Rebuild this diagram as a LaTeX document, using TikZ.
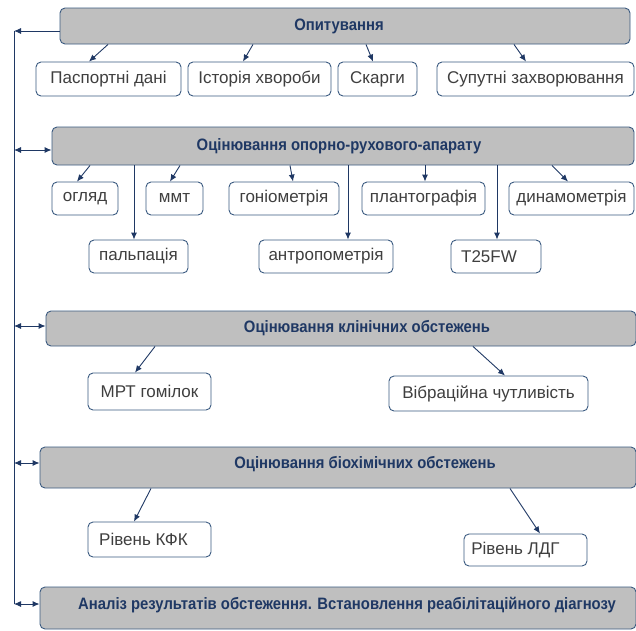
\documentclass[tikz,border=0pt]{standalone}
\usepackage{fontspec}
\setmainfont{Liberation Sans}
\usetikzlibrary{arrows.meta}
\definecolor{navy}{HTML}{1F3864}
\definecolor{boxline}{HTML}{3A5A80}
\definecolor{headfill}{HTML}{BFBFBF}
\definecolor{itemtext}{HTML}{3F3F3F}

\begin{document}
\begin{tikzpicture}[x=1pt, y=-1pt,
    head/.style={draw=boxline, line width=0.9pt, fill=headfill, rounded corners=5pt,
        font=\bfseries\fontsize{16.5}{18}\selectfont\addfontfeature{FakeStretch=0.9}, text=navy, inner sep=0pt},
    item/.style={draw=boxline, line width=0.9pt, fill=white, rounded corners=5pt,
        font=\fontsize{17}{19}\selectfont, text=itemtext, inner sep=0pt, minimum height=34pt},
    arr/.style={navy, line width=0.9pt, -{Latex[length=7pt,width=6pt]}},
    dbl/.style={navy, line width=0.9pt, {Latex[length=7pt,width=6pt]}-{Latex[length=7pt,width=6pt]}}]
    \useasboundingbox (0,0) rectangle (636,630);

    % survey
    \node[head, minimum width=570pt, minimum height=36pt] (op) at (345,26) {Опитування\hspace*{12pt}};
    \node[item, minimum width=145pt] (pd) at (108.5,79) {Паспортні дані};
    \node[item, minimum width=143pt] (ih) at (259.5,79) {Історія хвороби};
    \node[item, minimum width=79pt] (sk) at (377.5,79) {Скарги};
    \node[item, minimum width=197pt] (sz) at (535.5,79) {Супутні захворювання};
    \draw[arr] (108,0 |- op.south) -- (89,0 |- pd.north);
    \draw[arr] (253,0 |- op.south) -- (243,0 |- ih.north);
    \draw[arr] (366,0 |- op.south) -- (373,0 |- sk.north);
    \draw[arr] (514,0 |- op.south) -- (526,0 |- sz.north);

    % musculoskeletal
    \node[head, minimum width=582pt, minimum height=38pt] (ora) at (343,146) {Оцінювання опорно-рухового-апарату\hspace*{8pt}};
    \node[item, minimum width=66pt, minimum height=33pt] (og) at (85,198.5) {огляд};
    \node[item, minimum width=57pt, minimum height=33pt] (mmt) at (174.5,198.5) {ммт};
    \node[item, minimum width=110pt, minimum height=33pt] (gon) at (284,198.5) {гоніометрія};
    \node[item, minimum width=123pt, minimum height=33pt] (pl) at (423.5,198.5) {плантографія};
    \node[item, minimum width=125pt, minimum height=33pt] (din) at (571.5,198.5) {динамометрія};
    \node[item, minimum width=99pt, minimum height=33pt] (pal) at (138.5,256.5) {пальпація};
    \node[item, minimum width=134pt, minimum height=33pt] (ant) at (326,256.5) {антропометрія};
    \node[item, minimum width=90pt, minimum height=33pt] (tfw) at (496,256.5) {T25FW\hspace*{14pt}};
    \draw[arr] (90,0 |- ora.south) -- (77,0 |- og.north);
    \draw[arr] (180,0 |- ora.south) -- (170,0 |- mmt.north);
    \draw[arr] (290,0 |- ora.south) -- (293,0 |- gon.north);
    \draw[arr] (425,0 |- ora.south) -- (425,0 |- pl.north);
    \draw[arr] (552,0 |- ora.south) -- (568,0 |- din.north);
    \draw[arr] (134,0 |- ora.south) -- (134,0 |- pal.north);
    \draw[arr] (348,0 |- ora.south) -- (348,0 |- ant.north);
    \draw[arr] (497,0 |- ora.south) -- (497,0 |- tfw.north);

    % clinical
    \node[head, minimum width=590pt, minimum height=35pt] (kl) at (341,328.5) {\hspace*{52pt}Оцінювання клінічних обстежень};
    \node[item, minimum width=123pt, minimum height=37pt] (mrt) at (149.5,391.5) {МРТ гомілок};
    \node[item, minimum width=199pt, minimum height=35pt] (vib) at (488.5,393.5) {Вібраційна чутливість};
    \draw[arr] (155,0 |- kl.south) -- (135,0 |- mrt.north);
    \draw[arr] (473,0 |- kl.south) -- (505,0 |- vib.north);

    % biochemical
    \node[head, minimum width=596pt, minimum height=41pt, text depth=10pt] (bio) at (338,467.5) {\hspace*{54pt}Оцінювання біохімічних обстежень};
    \node[item, minimum width=123pt, minimum height=35pt] (kfk) at (149.5,539.5) {Рівень КФК\hspace*{12pt}};
    \node[item, minimum width=123pt, minimum height=32pt] (ldg) at (525.5,550) {Рівень ЛДГ\hspace*{20pt}};
    \draw[arr] (151,0 |- bio.south) -- (134,0 |- kfk.north);
    \draw[arr] (510,0 |- bio.south) -- (540,0 |- ldg.north);

    % analysis
    \node[head, minimum width=596pt, minimum height=42pt, text depth=10pt] (an) at (338,608) {\hspace*{18pt}Аналіз результатів обстеження. Встановлення реабілітаційного діагнозу};

    % left feedback line
    \coordinate (s1) at (14,31);
    \coordinate (s2) at (14,150);
    \coordinate (s3) at (14,326);
    \coordinate (s4) at (14,463);
    \coordinate (s5) at (14,604);
    \draw[navy, line width=0.9pt] (s1) -- (s5);
    \draw[arr] (s1 -| op.west) -- (s1);
    \draw[dbl] (s2) -- (s2 -| ora.west);
    \draw[dbl] (s3) -- (s3 -| kl.west);
    \draw[dbl] (s4) -- (s4 -| bio.west);
    \draw[dbl] (s5) -- (s5 -| an.west);
\end{tikzpicture}
\end{document}
